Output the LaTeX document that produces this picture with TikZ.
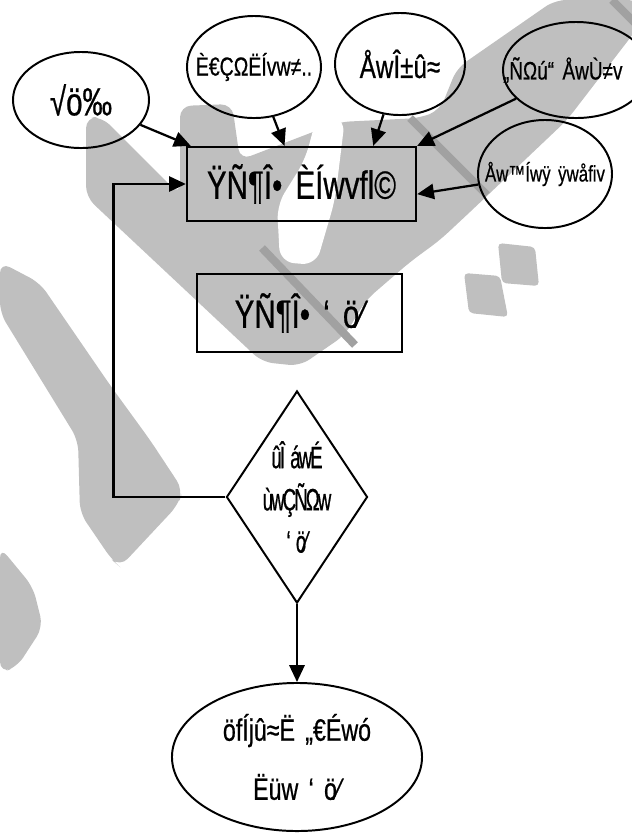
\documentclass[tikz,border=0pt]{standalone}
\usepackage{fontspec}
\usepackage{tikz}
\usetikzlibrary{positioning,shapes.geometric,arrows.meta}
\newfontfamily\garbled[FakeStretch=0.75,FakeBold=0.6,WordSpace=1.6]{Liberation Sans}
\newfontfamily\garbledx[FakeStretch=0.6,FakeBold=0.6,LetterSpace=-6,WordSpace=1.6]{Liberation Sans}
\definecolor{wmgray}{gray}{0.75}
\definecolor{wmdark}{gray}{0.63}
\tikzstyle{bubble} = [ellipse, draw=black, line width=1.4pt, inner sep=-3cm, align=center]
\tikzstyle{squared} = [rectangle, draw=black, line width=1.6pt, minimum width=1cm, minimum height=0.5cm, text centered]
\tikzstyle{boxif} = [diamond, draw=black, line width=1.4pt, inner sep=-3cm, align=center]
\tikzstyle{connect} = [line width=1.6pt,-{Triangle[length=0.42cm,width=0.38cm]}]
\tikzstyle{wmark} = [fill=wmgray, rounded corners=8pt]

\begin{document}
\begin{tikzpicture}[x=0.025cm,y=-0.025cm]
			\useasboundingbox (0,0) rectangle (632,838);
			% watermark behind the chart
			\fill[wmark] (86,117) -- (102,117) -- (180,195) -- (180,106) -- (232,104) -- (240,160)
				-- (339,122) -- (420,118) -- (440,110) -- (457,68) -- (555,0) -- (640,0) -- (640,25)
				-- (567,120) -- (470,212) -- (440,240) -- (410,262) -- (366,300) -- (345,335)
				-- (300,366) -- (262,362) -- (86,197) -- cycle;
			\fill[white, rounded corners=10pt] (318,112) -- (345,118) -- (335,200) -- (316,265)
				-- (280,262) -- (277,205) -- (305,160) -- cycle;
			\draw[wmdark, line width=0.2cm] (410,118) -- (487,195);
			\draw[wmdark, line width=0.2cm] (262,248) -- (355,345);
			\draw[wmdark, line width=0.2cm] (612,0) -- (640,28);
			\fill[wmark, rounded corners=3pt] (498,243) -- (535,247) -- (539,286) -- (502,283) -- cycle;
			\fill[wmark, rounded corners=3pt] (464,273) -- (500,276) -- (508,317) -- (469,313) -- cycle;
			\fill[wmark] (0,262) -- (40,283) -- (110,385) -- (150,440) -- (183,490) -- (178,505)
				-- (120,567) -- (112,560) -- (80,513) -- (78,440) -- (0,313) -- cycle;
			\fill[wmark] (0,547) -- (33,587) -- (43,627) -- (17,667) -- (0,673) -- cycle;

			\node (tujuan) [bubble, minimum width=3.4cm, minimum height=2.4cm, font=\garbled\fontsize{28}{32}\selectfont] at (81,100) {√ö‰};
			\node (dana) [bubble, minimum width=3.35cm, minimum height=2.55cm, font=\garbled\fontsize{18.5}{22}\selectfont] at (254,67) {È€ÇΩËÍvw≠..};
			\node (waktu) [bubble, minimum width=3.25cm, minimum height=2.55cm, font=\garbled\fontsize{23}{27}\selectfont] at (400,64) {ÅwÎ±û≈};
			\node (sumber) [bubble, minimum width=3.65cm, minimum height=2.4cm, text width=3.65cm, align=left, font=\garbled\fontsize{18}{22}\selectfont] at (576,70) {„ÑΩú“ ÅwÙ≠v};
			\node (rencana) [squared, minimum width=5.725cm, minimum height=1.85cm, font=\garbled\fontsize{28}{32}\selectfont] at (301.5,184) {ŸÑ¶Î• ÈÍwvﬂ©};
			\node (evaluasi) [bubble, minimum width=3.35cm, minimum height=2.7cm, font=\garbled\fontsize{16}{20}\selectfont] at (545,174) {Åw™Íwÿ ÿwåﬁv};
			\node (proses) [squared, minimum width=5.125cm, minimum height=1.95cm, font=\garbled\fontsize{28}{32}\selectfont] at (299.5,313) {ŸÑ¶Î• ‘ ö⁄};
			\node (cek) [boxif, minimum width=3.525cm, minimum height=5.3cm, font=\garbledx\fontsize{22}{30}\selectfont] at (297,497) {ûÎ áwÉ\\ùwÇÑΩw\\‘ ö⁄};
			\node (hasil) [bubble, minimum width=6.25cm, minimum height=3.7cm, font=\garbled\fontsize{22}{42}\selectfont] at (297,757) {öfÍjû≈Ë „€Éwó\\Ëüw ‘ ö⁄};

			\draw [connect] (tujuan) -- (rencana.161);
			\draw [connect] (dana) -- (rencana.114);
			\draw [connect] (waktu) -- (rencana.28);
			\draw [connect] (sumber) -- (rencana.north east);
			\draw [connect] (evaluasi) -- (rencana.-5);
			\draw [connect] (cek.west) -- ++(-112,0) |- (rencana.west);
			\draw [connect] (cek.south) -- (hasil.north);
\end{tikzpicture}
\end{document}
